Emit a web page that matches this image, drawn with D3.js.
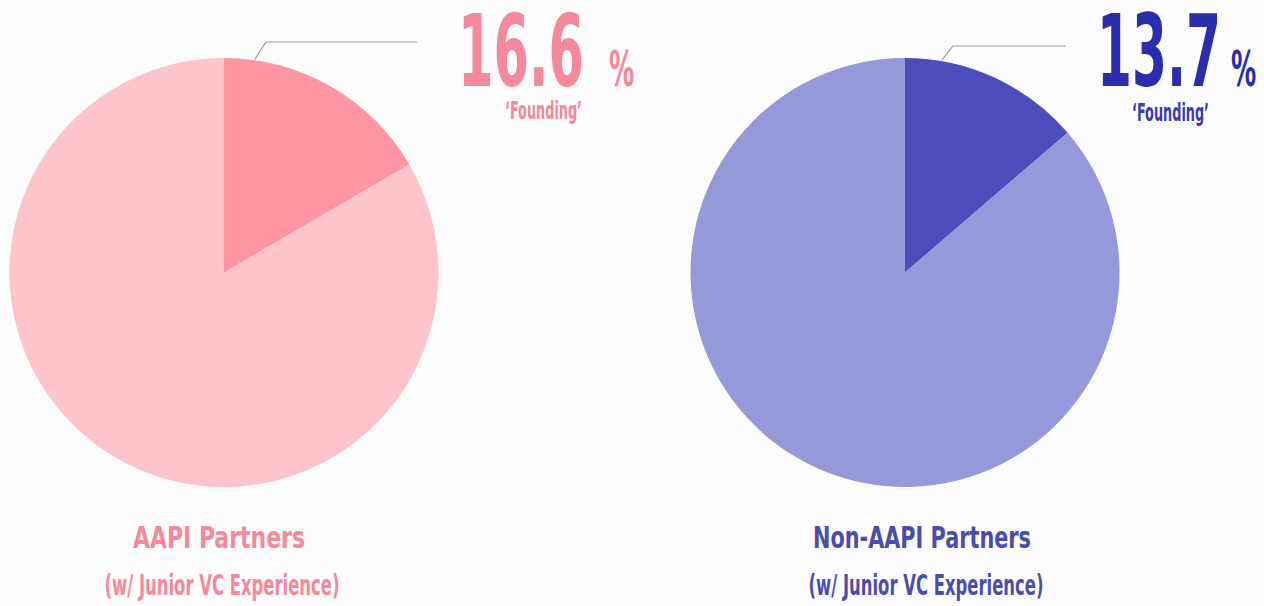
<!DOCTYPE html>
<html>
  <head>
    <meta charset="UTF-8" />
    <title>Founding partners</title>
    <style>
      body { margin: 0; background: #fcfcfc; }
      text { font-family: "Liberation Sans Narrow", "DejaVu Sans Condensed", sans-serif; font-weight: bold; }
    </style>
  </head>
  <body>
    <svg id="chart" width="1264" height="606"></svg>
    <script src="https://cdnjs.cloudflare.com/ajax/libs/d3/7.8.5/d3.min.js"></script>
    <script>
// values
const groups = ['AAPI Partners', 'Non-AAPI Partners'];
const subtitles = ['(w/ Junior VC Experience)', '(w/ Junior VC Experience)'];
const founding = [16.6, 13.7];
const sliceLabels = ['Founding', 'Other'];

const palette = [
  { slice: '#fd95a2', rest: '#fdc5cb', big: '#f3899a', small: '#f3899a', name: '#f3899a' },
  { slice: '#4c4cba', rest: '#9598d9', big: '#2a2ead', small: '#3a3cac', name: '#4a4dab' }
];

const svg = d3.select('#chart');
svg.append('rect').attr('width', 1264).attr('height', 606).attr('fill', '#fcfcfc');

const radius = 214.5;
const cx = d3.scalePoint().domain(groups).range([224, 905]);
const cy = 272.5;

const pie = d3.pie().sort(null).value(d => d.value);
const arc = d3.arc().innerRadius(0).outerRadius(radius);

groups.forEach((g, i) => {
  const col = palette[i];
  const data = [
    { key: sliceLabels[0], value: founding[i] },
    { key: sliceLabels[1], value: 100 - founding[i] }
  ];
  const gr = svg.append('g').attr('transform', `translate(${cx(g)},${cy})`);

  gr.selectAll('path')
    .data(pie(data))
    .enter()
    .append('path')
    .attr('d', arc)
    .attr('fill', (d, j) => j === 0 ? col.slice : col.rest);

  // leader line from the slice's outer edge
  const a0 = pie(data)[0];
  const ang = a0.startAngle + (a0.endAngle - a0.startAngle) * (i === 0 ? 0.138 : 0.2);
  const px = Math.sin(ang) * (radius + 1), py = -Math.cos(ang) * (radius + 1);
  const ex = i === 0 ? 193 : 161;
  const ey = i === 0 ? -230.5 : -226.5;
  gr.append('path')
    .attr('d', `M${px},${py}L${px + 11},${ey}L${ex},${ey}`)
    .attr('fill', 'none')
    .attr('stroke', '#9a9a9a')
    .attr('stroke-width', 1.2);

  // big percent label
  const numX = i === 0 ? 234 : 192;
  const numW = i === 0 ? 126 : 124;
  gr.append('text')
    .attr('x', numX).attr('y', 86 - cy)
    .attr('font-size', 99)
    .attr('textLength', numW)
    .attr('lengthAdjust', 'spacingAndGlyphs')
    .attr('fill', col.big)
    .text(founding[i].toFixed(1));
  gr.append('text')
    .attr('transform', `translate(${i === 0 ? 385 : 326},${86 - cy}) scale(0.56,1)`)
    .attr('font-size', 50)
    .attr('fill', col.big)
    .text('%');
  gr.append('text')
    .attr('x', i === 0 ? 319.5 : 265.5).attr('y', (i === 0 ? 119 : 121) - cy)
    .attr('text-anchor', 'middle')
    .attr('font-size', 24)
    .attr('textLength', 77)
    .attr('lengthAdjust', 'spacingAndGlyphs')
    .attr('fill', col.small)
    .text('\u2018' + sliceLabels[0] + '\u2019');

  // names under pies
  gr.append('text')
    .attr('x', i === 0 ? -5 : 17).attr('y', 548 - cy)
    .attr('text-anchor', 'middle')
    .attr('font-size', 31)
    .attr('textLength', i === 0 ? 172 : 218)
    .attr('lengthAdjust', 'spacingAndGlyphs')
    .attr('fill', col.name)
    .text(g);
  gr.append('text')
    .attr('x', i === 0 ? -2 : 21).attr('y', 595 - cy)
    .attr('text-anchor', 'middle')
    .attr('font-size', 29)
    .attr('textLength', 235)
    .attr('lengthAdjust', 'spacingAndGlyphs')
    .attr('fill', col.name)
    .text(subtitles[i]);
});
    </script>
  </body>
</html>
